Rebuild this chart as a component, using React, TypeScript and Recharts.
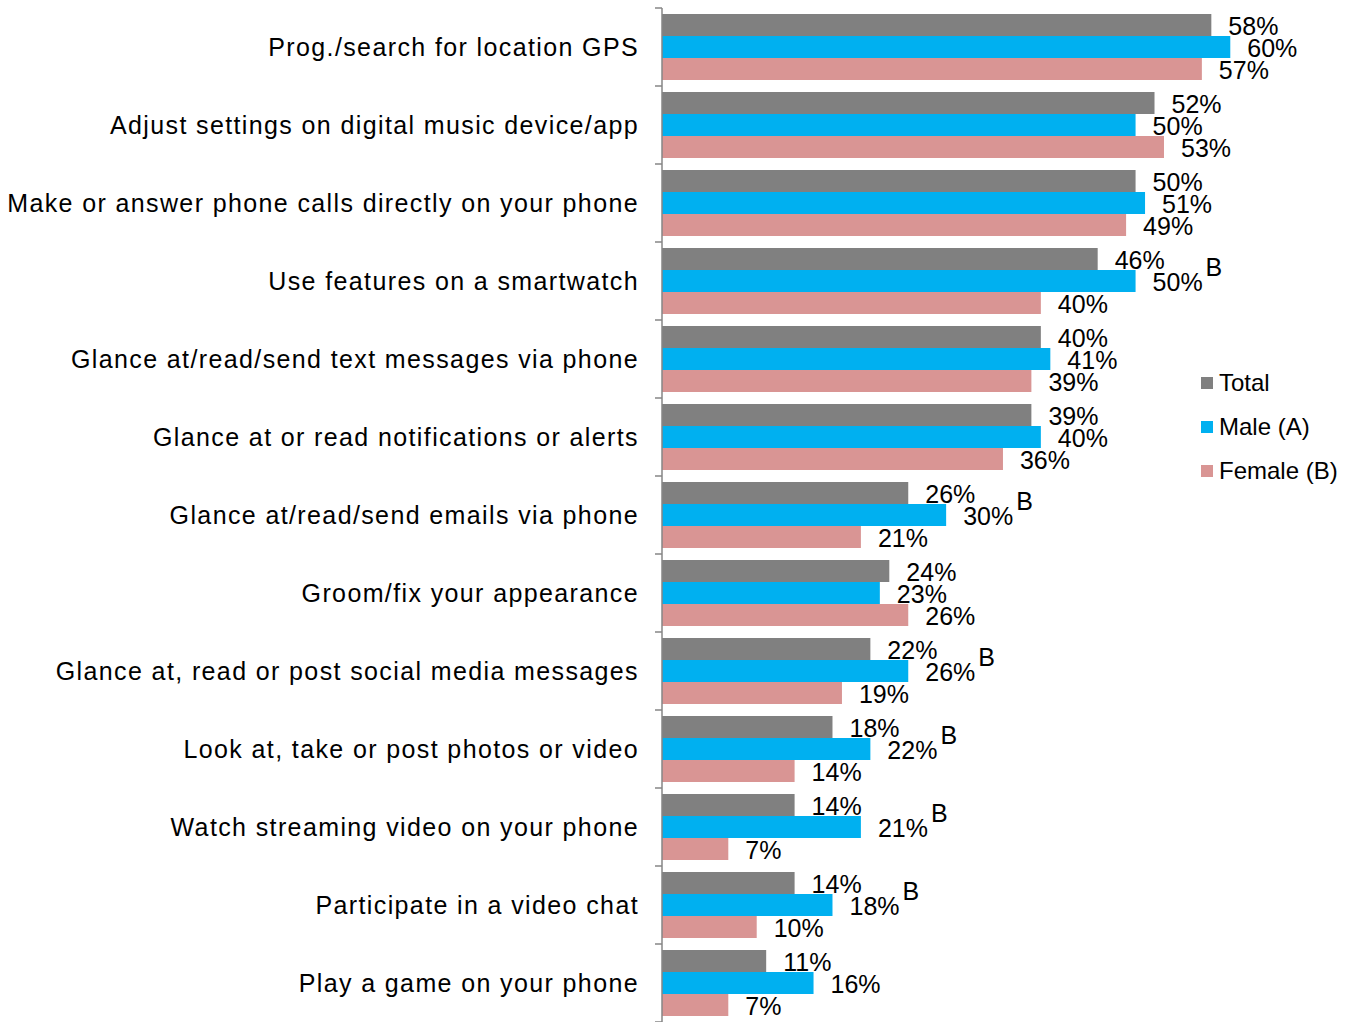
import React from "react";
import { Bar, BarChart, LabelList, XAxis, YAxis } from "recharts";

const CATEGORIES = [
  "Prog./search for location GPS",
  "Adjust settings on digital music device/app ",
  "Make or answer phone calls directly on your phone",
  "Use features on a smartwatch",
  "Glance at/read/send text messages via phone",
  "Glance at or read notifications or alerts",
  "Glance at/read/send emails via phone",
  "Groom/fix your appearance",
  "Glance at, read or post social media messages",
  "Look at, take or post photos or video",
  "Watch streaming video on your phone",
  "Participate in a video chat",
  "Play a game on your phone",
];
const TOTAL = [58, 52, 50, 46, 40, 39, 26, 24, 22, 18, 14, 14, 11];
const MALE = [60, 50, 51, 50, 41, 40, 30, 23, 26, 22, 21, 18, 16];
const FEMALE = [57, 53, 49, 40, 39, 36, 21, 26, 19, 14, 7, 10, 7];
// significance marker shown next to Male values
const MALE_SIG = ["", "", "", "B", "", "", "B", "", "B", "B", "B", "B", ""];

const SERIES = [
  { key: "total", name: "Total", color: "#808080" },
  { key: "male", name: "Male (A)", color: "#00B0F0" },
  { key: "female", name: "Female (B)", color: "#D99594" },
];

const data = CATEGORIES.map((c, i) => ({
  cat: c,
  total: TOTAL[i],
  male: MALE[i],
  female: FEMALE[i],
}));

const W = 1347;
const H = 1022;
const TOP = 8;
const AXIS_X = 662;
const HALF_BAND = (H - TOP) / CATEGORIES.length / 2;
const FONT = "Arial, 'Liberation Sans', Helvetica, sans-serif";

function CategoryTick(props: any) {
  const { x, y, payload, index } = props;
  const last = index === CATEGORIES.length - 1;
  return (
    <g>
      <line x1={AXIS_X - 7} x2={AXIS_X} y1={y - HALF_BAND} y2={y - HALF_BAND} stroke="#868686" strokeWidth={1.5} />
      {last ? (
        <line x1={AXIS_X - 7} x2={AXIS_X} y1={y + HALF_BAND} y2={y + HALF_BAND} stroke="#868686" strokeWidth={1.5} />
      ) : null}
      <text
        x={x - 15}
        y={y}
        textAnchor="end"
        dominantBaseline="central"
        fill="#000"
        style={{ fontSize: 25, fontFamily: FONT, letterSpacing: 1.38 }}
      >
        {payload.value}
      </text>
    </g>
  );
}

function valueLabel(props: any) {
  const { x, y, width, height, value } = props;
  return (
    <text
      x={x + width + 17}
      y={y + height / 2 + 1}
      dominantBaseline="central"
      fill="#000"
      style={{ fontSize: 25, fontFamily: FONT }}
    >
      {value}%
    </text>
  );
}

function maleLabel(props: any) {
  const { x, y, width, height, value, index } = props;
  const sig = MALE_SIG[index];
  return (
    <text
      x={x + width + 17}
      y={y + height / 2 + 1}
      dominantBaseline="central"
      fill="#000"
      style={{ fontSize: 25, fontFamily: FONT }}
    >
      {value}%
      {sig ? (
        <tspan dx={3} dy={-15}>
          {sig}
        </tspan>
      ) : null}
    </text>
  );
}

function LegendBox() {
  return (
    <div
      style={{
        position: "absolute",
        left: 1201,
        top: 361,
        fontFamily: FONT,
        fontSize: 24,
        color: "#000",
      }}
    >
      {SERIES.map((s) => (
        <div key={s.key} style={{ display: "flex", alignItems: "center", height: 44 }}>
          <span style={{ width: 12, height: 12, background: s.color, marginRight: 6, display: "inline-block" }} />
          {s.name}
        </div>
      ))}
    </div>
  );
}

export default function App() {
  return (
    <div style={{ position: "absolute", left: 0, top: 0, width: W, height: H, background: "#fff" }}>
      <BarChart
        width={W}
        height={H}
        data={data}
        layout="vertical"
        margin={{ top: TOP, right: 22, bottom: 0, left: 0 }}
        barCategoryGap={6}
        barGap={0}
      >
        <XAxis type="number" domain={[0, 70]} hide />
        <YAxis
          type="category"
          dataKey="cat"
          width={AXIS_X}
          axisLine={{ stroke: "#868686", strokeWidth: 1.5 }}
          tickLine={false}
          tick={<CategoryTick />}
          interval={0}
        />
        <Bar dataKey="total" name="Total" fill={SERIES[0].color} isAnimationActive={false}>
          <LabelList dataKey="total" content={valueLabel} />
        </Bar>
        <Bar dataKey="male" name="Male (A)" fill={SERIES[1].color} isAnimationActive={false}>
          <LabelList dataKey="male" content={maleLabel} />
        </Bar>
        <Bar dataKey="female" name="Female (B)" fill={SERIES[2].color} isAnimationActive={false}>
          <LabelList dataKey="female" content={valueLabel} />
        </Bar>
      </BarChart>
      <LegendBox />
    </div>
  );
}
